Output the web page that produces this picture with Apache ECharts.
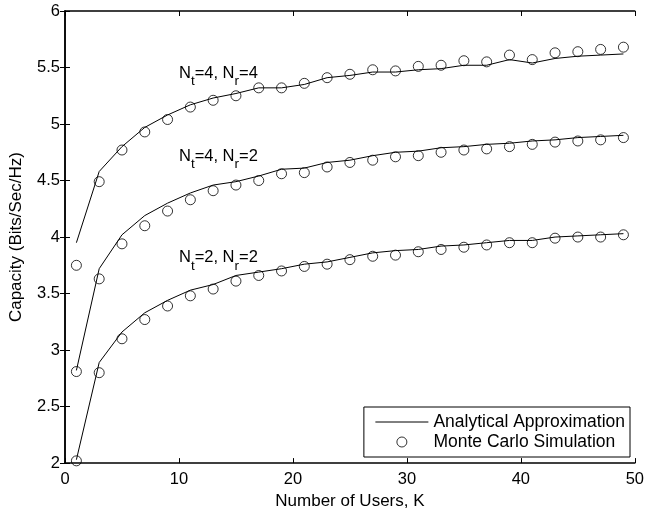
<!DOCTYPE html>
<html>
<head>
<meta charset="utf-8">
<script src="https://cdn.jsdelivr.net/npm/echarts@6/dist/echarts.min.js"></script>
<style>
  html, body { margin: 0; padding: 0; background: #fff; }
  #chart { width: 647px; height: 515px; }
</style>
</head>
<body>
<div id="chart"></div>
<script>
// number of users K
var users = [1, 3, 5, 7, 9, 11, 13, 15, 17, 19, 21, 23, 25, 27, 29, 31, 33, 35, 37, 39, 41, 43, 45, 47, 49];

// analytical approximation curves
var approx44 = [3.95, 4.58, 4.80, 4.97, 5.08, 5.17, 5.23, 5.27, 5.32, 5.32, 5.35, 5.41, 5.43, 5.46, 5.46, 5.48, 5.49, 5.52, 5.52, 5.57, 5.54, 5.58, 5.60, 5.61, 5.62];
var approx42 = [2.82, 3.72, 4.02, 4.19, 4.30, 4.39, 4.46, 4.49, 4.54, 4.60, 4.61, 4.66, 4.68, 4.72, 4.75, 4.76, 4.79, 4.80, 4.82, 4.83, 4.85, 4.86, 4.88, 4.89, 4.90];
var approx22 = [2.03, 2.89, 3.16, 3.33, 3.44, 3.53, 3.58, 3.66, 3.69, 3.72, 3.76, 3.78, 3.82, 3.86, 3.88, 3.89, 3.92, 3.93, 3.95, 3.97, 3.97, 4.00, 4.01, 4.02, 4.03];

// monte carlo points
var sim44 = [3.75, 4.49, 4.77, 4.93, 5.04, 5.15, 5.21, 5.25, 5.32, 5.32, 5.36, 5.41, 5.44, 5.48, 5.47, 5.51, 5.52, 5.56, 5.55, 5.61, 5.57, 5.63, 5.64, 5.66, 5.68];
var sim42 = [2.81, 3.63, 3.94, 4.10, 4.23, 4.33, 4.41, 4.46, 4.50, 4.56, 4.57, 4.62, 4.66, 4.68, 4.71, 4.72, 4.75, 4.77, 4.78, 4.80, 4.82, 4.84, 4.85, 4.86, 4.88];
var sim22 = [2.02, 2.80, 3.10, 3.27, 3.39, 3.48, 3.54, 3.61, 3.66, 3.70, 3.74, 3.76, 3.80, 3.83, 3.84, 3.87, 3.89, 3.91, 3.93, 3.95, 3.95, 3.99, 4.00, 4.00, 4.02];

// curve labels: [Nt, Nr, K, capacity]
var curveLabels = [[4, 4, 10, 5.418], [4, 2, 10, 4.686], [2, 2, 10, 3.787]];

var FONT = "'Liberation Sans', Arial, Helvetica, sans-serif";

function pairs(ys) {
    return users.map(function (k, i) { return [k, ys[i]]; });
}

function lineSeries(ys, lbl) {
    var s = {
        name: 'Analytical Approximation',
        type: 'line',
        data: pairs(ys),
        symbol: 'none',
        showSymbol: false,
        lineStyle: { color: '#000', width: 1 },
        itemStyle: { color: '#000' },
        z: 3
    };
    if (lbl) {
        s.markPoint = {
            symbol: 'circle',
            symbolSize: 0,
            silent: true,
            label: {
                show: true,
                position: 'right',
                distance: 0,
                color: '#000',
                fontFamily: FONT,
                fontSize: 17,
                lineHeight: 24,
                formatter: '{n|N}{s|t}{n|=' + lbl[0] + ', N}{s|r}{n|=' + lbl[1] + '}',
                rich: {
                    n: { fontFamily: FONT, fontSize: 16.5, color: '#000', verticalAlign: 'top' },
                    s: { fontFamily: FONT, fontSize: 13.5, color: '#000', verticalAlign: 'bottom' }
                }
            },
            data: [{ coord: [lbl[2], lbl[3]] }]
        };
    }
    return s;
}

function simSeries(ys) {
    return {
        name: 'Monte Carlo Simulation',
        type: 'scatter',
        data: pairs(ys),
        symbol: 'circle',
        symbolSize: 10,
        itemStyle: { color: 'rgba(0,0,0,0)', borderColor: '#000', borderWidth: 1 },
        z: 4
    };
}

var chart = echarts.init(document.getElementById('chart'));

var axisLine = { show: true, lineStyle: { color: '#000', width: 1.5 } };
var tick = { show: true, inside: true, length: 5, lineStyle: { color: '#000', width: 1 } };

chart.setOption({
    animation: false,
    backgroundColor: '#fff',
    grid: { left: 64, right: 9, top: 11, bottom: 51, containLabel: false },
    legend: {
        data: [
            { name: 'Analytical Approximation', itemStyle: { opacity: 0 }, lineStyle: { width: 1 } },
            { name: 'Monte Carlo Simulation', itemStyle: { borderWidth: 1 } }
        ],
        orient: 'vertical',
        right: 17,
        bottom: 58,
        itemWidth: 53,
        itemHeight: 10,
        itemGap: 0,
        padding: [5, 5, 5, 11],
        backgroundColor: '#fff',
        borderColor: '#000',
        borderWidth: 1,
        borderRadius: 0,
        selectedMode: false,
        textStyle: { fontFamily: FONT, fontSize: 17.5, color: '#000', lineHeight: 20 }
    },
    xAxis: [{
        type: 'value',
        min: 0, max: 50, interval: 10,
        name: 'Number of Users, K',
        nameLocation: 'middle',
        nameGap: 26,
        nameTextStyle: { fontFamily: FONT, fontSize: 17, color: '#000' },
        axisLine: axisLine,
        axisTick: tick,
        axisLabel: { fontFamily: FONT, fontSize: 16.5, color: '#000', margin: 8 },
        splitLine: { show: false }
    }, {
        type: 'value',
        position: 'top',
        min: 0, max: 50, interval: 10,
        axisLine: axisLine,
        axisTick: tick,
        axisLabel: { show: false },
        splitLine: { show: false }
    }],
    yAxis: [{
        type: 'value',
        min: 2, max: 6, interval: 0.5,
        name: 'Capacity (Bits/Sec/Hz)',
        nameLocation: 'middle',
        nameGap: 40,
        nameTextStyle: { fontFamily: FONT, fontSize: 17, color: '#000' },
        axisLine: axisLine,
        axisTick: tick,
        axisLabel: { fontFamily: FONT, fontSize: 16.5, color: '#000', margin: 5 },
        splitLine: { show: false }
    }, {
        type: 'value',
        position: 'right',
        min: 2, max: 6, interval: 0.5,
        axisLine: axisLine,
        axisTick: tick,
        axisLabel: { show: false },
        splitLine: { show: false }
    }],
    series: [
        lineSeries(approx44, curveLabels[0]),
        lineSeries(approx42, curveLabels[1]),
        lineSeries(approx22, curveLabels[2]),
        simSeries(sim44),
        simSeries(sim42),
        simSeries(sim22)
    ]
});
</script>
</body>
</html>
